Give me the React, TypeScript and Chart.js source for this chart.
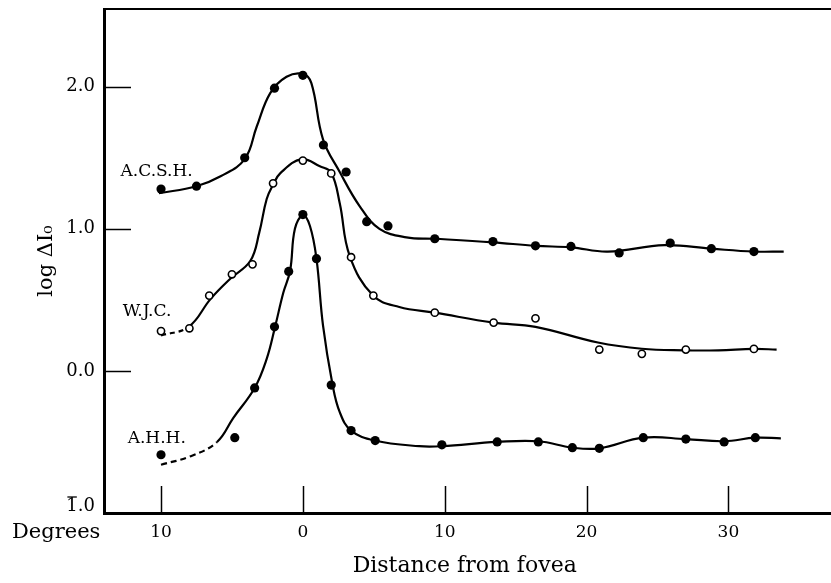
import React, { useEffect, useRef } from "react";
import { Chart, registerables } from "chart.js";

Chart.register(...registerables);

const FONT = "'DejaVu Serif', 'Liberation Serif', serif";

// Measured observations (degrees from fovea; negative = left side, labelled without sign)
const acshX = [-10, -7.5, -4.1, -2.0, 0, 1.45, 3.05, 4.5, 6.0, 9.3, 13.4, 16.4, 18.9, 22.3, 25.9, 28.8, 31.8];
const acshY = [1.28, 1.30, 1.50, 1.99, 2.08, 1.59, 1.40, 1.05, 1.02, 0.93, 0.91, 0.88, 0.876, 0.83, 0.90, 0.86, 0.84];

const wjcX = [-10, -8.0, -6.6, -5.0, -3.55, -2.1, 0, 2.0, 3.4, 4.97, 9.3, 13.45, 16.4, 20.9, 23.9, 27.0, 31.8];
const wjcY = [0.28, 0.30, 0.53, 0.68, 0.75, 1.32, 1.48, 1.39, 0.80, 0.53, 0.41, 0.34, 0.37, 0.15, 0.12, 0.15, 0.155];

const ahhX = [-10, -4.8, -3.4, -2.0, -1.0, 0, 0.96, 2.0, 3.4, 5.1, 9.8, 13.7, 16.6, 19.0, 20.9, 24.0, 27.0, 29.7, 31.9];
const ahhY = [-0.59, -0.47, -0.12, 0.31, 0.70, 1.10, 0.79, -0.10, -0.42, -0.49, -0.52, -0.50, -0.50, -0.54, -0.545, -0.47, -0.48, -0.50, -0.47];

// Hand-drawn fitted curves
const acshCurveX = [-10.15, -7.5, -5.8, -4.1, -3.25, -2.3, -1.15, 0, 0.6, 1.42, 2.6, 4.0, 5.4, 7.3, 9.3, 13.4, 16.4, 18.9, 21.5, 25.5, 28.8, 31.8, 33.9];
const acshCurveY = [1.25, 1.30, 1.37, 1.49, 1.72, 1.955, 2.07, 2.09, 2.025, 1.63, 1.40, 1.16, 1.0, 0.94, 0.93, 0.905, 0.88, 0.87, 0.84, 0.885, 0.86, 0.84, 0.84];

const wjcCurveX = [-10, -8.05, -6.5, -5.1, -3.7, -3.07, -2.55, -2.1, -1.6, -0.1, 1.2, 2.0, 2.6, 3.3, 4.95, 6.8, 9.3, 13.45, 16.4, 20.8, 23.9, 26.9, 29.3, 31.8, 33.4];
const wjcCurveY = [0.25, 0.31, 0.507, 0.65, 0.775, 0.975, 1.21, 1.31, 1.39, 1.49, 1.44, 1.395, 1.18, 0.81, 0.53, 0.45, 0.41, 0.34, 0.31, 0.20, 0.156, 0.145, 0.145, 0.155, 0.15];

const ahhCurveX = [-10, -7.9, -6.05, -4.9, -3.4, -2.55, -1.96, -1.38, -0.9, -0.56, 0, 0.5, 0.96, 1.42, 2.08, 2.6, 3.4, 5.05, 8.2, 9.8, 13.7, 16.6, 19.0, 20.9, 24.0, 27.0, 29.7, 31.9, 33.7];
const ahhCurveY = [-0.66, -0.60, -0.50, -0.33, -0.12, 0.085, 0.31, 0.55, 0.705, 1.0, 1.095, 1.02, 0.79, 0.32, -0.09, -0.29, -0.42, -0.49, -0.53, -0.53, -0.50, -0.495, -0.54, -0.545, -0.47, -0.48, -0.495, -0.47, -0.475];

// Axis ticks
const xTickValues = [-10, 0, 10, 20, 30];
const yTickValues = [-1, 0, 1, 2];
const yTickLabels: Record<string, string> = { "-1": "", "0": "0.0", "1": "1.0", "2": "2.0" };

const seriesNames = ["A.C.S.H.", "W.J.C.", "A.H.H."];

const zip = (xs: number[], ys: number[]) => xs.map((x, i) => ({ x, y: ys[i] }));

const decorations = {
  id: "decorations",
  afterDraw(chart: any) {
    const { ctx, chartArea } = chart;
    const xs = chart.scales.x;
    const ys = chart.scales.y;
    const fullRight = chart.width;
    ctx.save();
    ctx.strokeStyle = "#000";
    // top frame line (runs off the right edge like the original figure)
    ctx.lineWidth = 2;
    ctx.beginPath();
    ctx.moveTo(chartArea.left, chartArea.top);
    ctx.lineTo(fullRight, chartArea.top);
    ctx.stroke();
    // continue the bottom axis line to the page edge, aligned like Chart.js border
    const by = Math.round(chartArea.bottom - 1.5) + 1.5;
    ctx.lineWidth = 3;
    ctx.beginPath();
    ctx.moveTo(chartArea.right - 2, by);
    ctx.lineTo(fullRight, by);
    ctx.stroke();
    // inward tick marks
    ctx.lineWidth = 1.5;
    yTickValues.filter((v) => v > -1).forEach((v) => {
      const y = Math.round(ys.getPixelForValue(v)) + 0.5;
      ctx.beginPath();
      ctx.moveTo(chartArea.left, y);
      ctx.lineTo(chartArea.left + 27, y);
      ctx.stroke();
    });
    xTickValues.forEach((v) => {
      const x = Math.round(xs.getPixelForValue(v)) + 0.5;
      ctx.beginPath();
      ctx.moveTo(x, chartArea.bottom);
      ctx.lineTo(x, chartArea.bottom - 27);
      ctx.stroke();
    });
    ctx.fillStyle = "#000";
    // bottom y label "1̄.0" (bar over the 1, log-table notation)
    ctx.font = `18px ${FONT}`;
    ctx.textAlign = "right";
    ctx.textBaseline = "middle";
    const rightEdge = chartArea.left - 9;
    const yLab = ys.getPixelForValue(-1) - 7;
    ctx.fillText("1.0", rightEdge, yLab);
    const wAll = ctx.measureText("1.0").width;
    const wOne = ctx.measureText("1").width;
    ctx.lineWidth = 1.3;
    ctx.beginPath();
    ctx.moveTo(rightEdge - wAll + 1, yLab - 9);
    ctx.lineTo(rightEdge - wAll + wOne - 1, yLab - 9);
    ctx.stroke();
    // "Degrees" caption
    ctx.font = `21px ${FONT}`;
    ctx.textAlign = "left";
    ctx.fillText("Degrees", 12, chartArea.bottom + 20);
    // series labels
    ctx.font = `17px ${FONT}`;
    const spots = [
      { x: -12.85, y: 1.4 },
      { x: -12.7, y: 0.42 },
      { x: -12.35, y: -0.475 },
    ];
    spots.forEach((s, i) => {
      ctx.fillText(seriesNames[i], xs.getPixelForValue(s.x), ys.getPixelForValue(s.y));
    });
    ctx.restore();
  },
};

export default function App() {
  const ref = useRef<HTMLCanvasElement>(null);
  useEffect(() => {
    const lineBase = {
      showLine: true,
      pointRadius: 0,
      borderColor: "#000",
      borderWidth: 2.2,
      tension: 0.4,
      fill: false,
      order: 2,
    };
    const chart = new Chart(ref.current!, {
      type: "scatter",
      data: {
        datasets: [
          { ...lineBase, label: "ACSH curve", data: zip(acshCurveX, acshCurveY) },
          {
            ...lineBase,
            label: "WJC curve",
            data: zip(wjcCurveX, wjcCurveY),
            segment: { borderDash: (c: any) => (c.p1.parsed.x <= -8.0 ? [5, 4] : undefined) },
          },
          {
            ...lineBase,
            label: "AHH curve",
            data: zip(ahhCurveX, ahhCurveY),
            segment: { borderDash: (c: any) => (c.p1.parsed.x <= -6.0 ? [6, 4] : undefined) },
          },
          {
            label: seriesNames[0],
            data: zip(acshX, acshY),
            pointRadius: 4.6,
            backgroundColor: "#000",
            borderColor: "#000",
            borderWidth: 0,
            order: 0,
          },
          {
            label: seriesNames[1],
            data: zip(wjcX, wjcY),
            pointRadius: 3.6,
            backgroundColor: "#fff",
            borderColor: "#000",
            borderWidth: 1.6,
            order: 0,
          },
          {
            label: seriesNames[2],
            data: zip(ahhX, ahhY),
            pointRadius: 4.6,
            backgroundColor: "#000",
            borderColor: "#000",
            borderWidth: 0,
            order: 0,
          },
        ],
      },
      options: {
        animation: false,
        responsive: false,
        devicePixelRatio: 1,
        layout: { padding: { top: 9, left: 0, right: 0, bottom: 0 } },
        plugins: { legend: { display: false }, tooltip: { enabled: false } },
        scales: {
          x: {
            type: "linear",
            min: -14.02,
            max: 36.84,
            grid: { display: false, drawTicks: false },
            border: { display: true, color: "#000", width: 3 },
            afterFit: (s: any) => {
              s.height = 70;
              s.paddingLeft = 0;
              s.paddingRight = 0;
            },
            afterBuildTicks: (s: any) => {
              s.ticks = xTickValues.map((v) => ({ value: v }));
            },
            ticks: {
              color: "#000",
              font: { family: FONT, size: 17 },
              padding: 9,
              maxRotation: 0,
              autoSkip: false,
              callback: (v: any) => String(Math.abs(Number(v))),
            },
            title: {
              display: true,
              text: "Distance from fovea",
              color: "#000",
              font: { family: FONT, size: 22 },
              padding: { top: 0, bottom: 4 },
            },
          },
          y: {
            type: "linear",
            min: -1,
            max: 2.547,
            grid: { display: false, drawTicks: false },
            border: { display: true, color: "#000", width: 3 },
            afterFit: (s: any) => {
              s.width = 104;
              s.paddingTop = 0;
              s.paddingBottom = 0;
            },
            afterBuildTicks: (s: any) => {
              s.ticks = yTickValues.map((v) => ({ value: v }));
            },
            ticks: {
              color: "#000",
              font: { family: FONT, size: 18 },
              padding: 9,
              autoSkip: false,
              callback: (v: any) => yTickLabels[String(v)] ?? String(v),
            },
            title: {
              display: true,
              text: "log \u0394I\u2080",
              color: "#000",
              font: { family: FONT, size: 21 },
              padding: { top: 34, bottom: 0 },
            },
          },
        },
      },
      plugins: [decorations],
    });
    return () => chart.destroy();
  }, []);
  return (
    <div style={{ position: "fixed", left: 0, top: 0, width: 831, height: 583, background: "#fff" }}>
      <canvas ref={ref} width={831} height={583} style={{ display: "block", width: 831, height: 583 }} />
    </div>
  );
}
